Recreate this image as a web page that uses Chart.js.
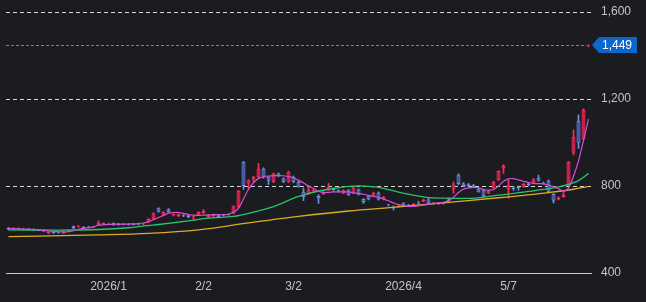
<!DOCTYPE html>
<html><head><meta charset="utf-8">
<script src="https://cdn.jsdelivr.net/npm/chart.js@4"></script>
<style>html,body{margin:0;padding:0;background:#1b1c1f;}canvas{display:block;}</style>
</head><body>
<canvas id="c" width="646" height="302"></canvas>
<script>
const opens = [608,602,605,601,603,601,599,597,583,590,
 588,582,596,615,613,612,612,610,622,625,
 626,629,627,626,626,626,627,624,634,647,
 698,666,693,664,661,666,666,657,666,676,
 658,661,666,668,666,674,704,911,812,830,
 840,881,842,819,858,835,819,842,819,773,
 763,775,754,763,781,789,781,766,781,766,
 784,740,755,753,770,738,714,702,704,720,
 712,709,722,729,738,722,716,722,738,784,
 850,812,808,804,789,781,766,789,827,880,
 784,792,795,796,812,812,838,815,824,763,
 738,750,804,953,1100,1015,1447];
const highs = [610,609,607,606,605,603,601,598,591,591,
 590,593,600,617,618,614,614,615,640,631,
 630,631,628,627,627,627,629,629,650,677,
 700,682,696,672,671,668,668,662,682,692,
 668,671,668,670,672,709,780,913,829,845,
 904,884,844,860,860,838,868,846,822,790,
 800,784,760,775,812,792,783,783,784,798,
 787,742,757,771,773,752,716,708,711,724,
 715,720,730,740,745,725,722,725,745,818,
 856,816,812,807,792,784,780,822,870,898,
 827,796,800,812,815,835,850,818,828,765,
 750,770,913,1058,1127,1155,1449];
const lows = [598,600,600,599,598,596,594,590,581,582,
 583,581,594,603,611,605,607,609,620,623,
 624,619,619,621,620,620,621,622,632,645,
 679,663,679,662,659,659,653,645,664,674,
 656,659,656,662,664,672,700,784,784,820,
 836,836,807,815,842,815,816,815,794,733,
 760,770,720,760,779,779,772,764,756,764,
 758,720,736,751,735,736,708,690,702,705,
 708,707,717,727,718,716,714,717,728,766,
 806,798,796,792,771,750,764,787,825,858,
 744,780,780,794,800,810,822,808,770,722,
 736,748,802,942,973,1012,1440];
const closes = [600,607,602,604,600,598,596,592,589,584,
 585,592,598,606,616,607,609,614,632,630,
 629,621,621,623,622,622,623,628,648,675,
 682,680,681,670,670,661,656,661,680,686,
 666,670,658,664,670,707,778,800,827,842,
 881,842,824,858,846,819,865,819,796,750,
 784,781,743,773,796,781,775,781,758,794,
 761,727,738,769,738,750,712,697,709,707,
 710,717,719,738,720,718,720,720,730,807,
 809,800,800,794,773,753,778,819,869,892,
 804,786,790,809,803,830,824,812,773,732,
 747,761,911,1027,999,1150,1449];
const ma5 = [605,604,603,602,602,600,598,596,593,591,
 590,589,590,595,601,605,609,612,620,622,
 623,624,625,625,625,626,627,630,636,645,
 655,665,675,678,678,674,669,666,665,666,
 667,668,668,668,670,680,697,740,785,815,
 835,842,846,847,848,847,843,838,826,814,
 800,788,776,770,771,773,773,773,773,769,
 766,762,757,752,748,740,732,722,714,710,
 707,707,709,712,716,720,722,725,732,748,
 770,786,791,794,792,784,781,783,800,822,
 833,834,828,822,816,812,811,810,803,797,
 788,776,790,845,915,1010,1107];
const ma25At = [0,10,18,24,30,36,40,45,49,53,58,64,70,74,78,85,92,98,105,110,114,116];
const ma25 = [598,597,600,608,623,640,652,660,680,705,752,785,801,794,772,745,743,758,778,796,825,858];
const ma75At = [0,18,28,38,48,58,68,78,88,98,108,113,116];
const ma75 = [567,575,582,598,630,660,685,704,725,746,770,785,798];
const tickIndex = [20,39,57,79,100];
const tickText = ['2026/1','2/2','3/2','2026/4','5/7'];
const yTicks = [400,800,1200,1600];
const lastPrice = 1449;

const UP_FILL='#d01e4a', UP_LINE='#ff2d57', DN_FILL='#4356aa', DN_LINE='#6f8fe6';
const cats = opens.map((_, i) => i);
const isUp = i => closes[i] >= opens[i];

const priceLine = {
  id: 'priceLine',
  beforeDatasetsDraw(chart) {
    const {ctx, chartArea: a, scales: {y}} = chart;
    const py = Math.round(y.getPixelForValue(lastPrice)) + 0.5;
    ctx.save();
    ctx.setLineDash([3,2]);
    ctx.strokeStyle = '#3f92e2';
    ctx.lineWidth = 1;
    ctx.beginPath(); ctx.moveTo(a.left, py); ctx.lineTo(a.right - 4, py); ctx.stroke();
    ctx.restore();
  },
  afterDraw(chart) {
    const {ctx, chartArea: a, scales: {y}} = chart;
    const py = Math.round(y.getPixelForValue(lastPrice));
    const x0 = a.right + 1;
    ctx.save();
    ctx.fillStyle = '#0c66cc';
    ctx.beginPath();
    ctx.moveTo(x0, py);
    ctx.lineTo(x0 + 7, py - 8);
    ctx.lineTo(x0 + 45, py - 8);
    ctx.lineTo(x0 + 45, py + 8);
    ctx.lineTo(x0 + 7, py + 8);
    ctx.closePath();
    ctx.fill();
    ctx.fillStyle = '#ffffff';
    ctx.font = "12px 'Liberation Sans', Arial, sans-serif";
    ctx.textBaseline = 'middle';
    ctx.textAlign = 'left';
    ctx.fillText(lastPrice.toLocaleString('en-US'), x0 + 10, py + 1);
    ctx.restore();
  }
};

Chart.defaults.font.family = "'Liberation Sans', Arial, sans-serif";
Chart.defaults.font.size = 12;
Chart.defaults.color = '#c4c4c4';

new Chart(document.getElementById('c'), {
  type: 'bar',
  data: {
    labels: cats,
    datasets: [
      {
        type: 'line', label: 'MA5', order: 1,
        data: ma5, borderColor: '#d94bdc', borderWidth: 1.2,
        pointRadius: 0, tension: 0.3
      },
      {
        type: 'line', label: 'MA25', order: 1,
        data: ma25At.map((x, k) => ({x, y: ma25[k]})),
        borderColor: '#27c46a', borderWidth: 1.3, pointRadius: 0,
        cubicInterpolationMode: 'monotone', spanGaps: true
      },
      {
        type: 'line', label: 'MA75', order: 1,
        data: ma75At.map((x, k) => ({x, y: ma75[k]})),
        borderColor: '#dcae1e', borderWidth: 1.3, pointRadius: 0,
        cubicInterpolationMode: 'monotone', spanGaps: true
      },
      {
        label: 'body', order: 2, grouped: false,
        data: opens.map((o, i) => [o, closes[i]]),
        backgroundColor: ctx => isUp(ctx.dataIndex) ? UP_FILL : DN_FILL,
        borderColor: ctx => isUp(ctx.dataIndex) ? UP_LINE : DN_LINE,
        borderWidth: 1, borderSkipped: false,
        barPercentage: 0.8, categoryPercentage: 1
      },
      {
        label: 'wick', order: 3, grouped: false,
        data: lows.map((l, i) => [l, highs[i]]),
        backgroundColor: ctx => isUp(ctx.dataIndex) ? UP_LINE : DN_LINE,
        barThickness: 1
      }
    ]
  },
  options: {
    responsive: false,
    animation: false,
    devicePixelRatio: 1,
    layout: { padding: { left: 6, top: 12, right: 0, bottom: 0 } },
    plugins: { legend: { display: false }, tooltip: { enabled: false } },
    scales: {
      x: {
        offset: true,
        grid: { display: false, drawTicks: false },
        border: { display: true, color: '#c8c8c8', width: 1 },
        ticks: {
          autoSkip: false, maxRotation: 0, padding: 6,
          callback: (v, i) => { const k = tickIndex.indexOf(i); return k >= 0 ? tickText[k] : ''; }
        },
        afterFit: s => { s.height = 29; }
      },
      y: {
        position: 'right',
        min: 400, max: 1600,
        afterBuildTicks: s => { s.ticks = yTicks.map(v => ({value: v})); },
        grid: {
          drawTicks: false,
          color: c => (c.tick && c.tick.value === 400) ? 'rgba(0,0,0,0)' : '#d6d6d6'
        },
        border: { display: false, dash: [4,3] },
        ticks: { padding: 10, callback: v => v.toLocaleString('en-US') },
        afterFit: s => { s.width = 55; s.paddingTop = 0; s.paddingBottom = 0; }
      }
    }
  },
  plugins: [priceLine]
});
</script>
</body></html>
